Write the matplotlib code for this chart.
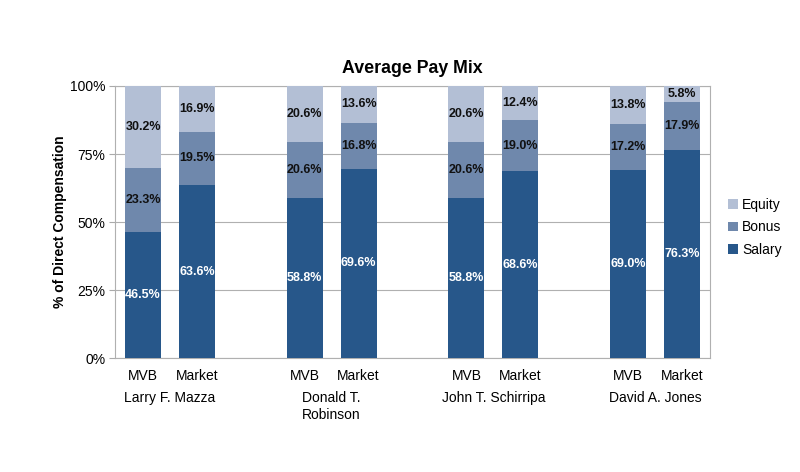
import matplotlib
matplotlib.use("Agg")
import matplotlib.pyplot as plt
from matplotlib.ticker import FuncFormatter
import matplotlib.transforms as mtransforms

plt.rcParams['font.family'] = ['Liberation Sans', 'DejaVu Sans']

# data
names = ["Larry F. Mazza", "Donald T.\nRobinson", "John T. Schirripa", "David A. Jones"]
bar_labels = ["MVB", "Market"]
salary = [46.5, 63.6, 58.8, 69.6, 58.8, 68.6, 69.0, 76.3]
bonus = [23.3, 19.5, 20.6, 16.8, 20.6, 19.0, 17.2, 17.9]
equity = [30.2, 16.9, 20.6, 13.6, 20.6, 12.4, 13.8, 5.8]

c_salary = '#27578a'
c_bonus = '#6f88ac'
c_equity = '#b3bfd5'

x = []
for g in range(len(names)):
    x += [g * 3, g * 3 + 1]

fig = plt.figure(figsize=(8, 4.72), dpi=100)
ax = fig.add_axes([0.14375, 0.2415, 0.74375, 0.5763])

width = 0.667
b1 = ax.bar(x, salary, width, color=c_salary, label='Salary', zorder=3)
b2 = ax.bar(x, bonus, width, bottom=salary, color=c_bonus, label='Bonus', zorder=3)
bottoms = [s + b for s, b in zip(salary, bonus)]
b3 = ax.bar(x, equity, width, bottom=bottoms, color=c_equity, label='Equity', zorder=3)

for i, xi in enumerate(x):
    ax.text(xi, salary[i] / 2, f"{salary[i]:.1f}%", ha='center', va='center',
            color='white', fontsize=9, fontweight='bold', zorder=4)
    ax.text(xi, salary[i] + bonus[i] / 2, f"{bonus[i]:.1f}%", ha='center', va='center',
            color='#111111', fontsize=9, fontweight='bold', zorder=4)
    ax.text(xi, bottoms[i] + equity[i] / 2, f"{equity[i]:.1f}%", ha='center', va='center',
            color='#111111', fontsize=9, fontweight='bold', zorder=4)

ax.set_xlim(-0.52, 10.52)
ax.set_ylim(0, 100)
ax.set_yticks([0, 25, 50, 75, 100])
ax.yaxis.set_major_formatter(FuncFormatter(lambda v, p: f"{int(v)}%"))
ax.tick_params(axis='y', labelsize=10, length=4, color='#aaaaaa', pad=3)
ax.grid(axis='y', color='#b0b0b0', linewidth=0.8, zorder=0)
ax.set_xticks(x)
ax.set_xticklabels(bar_labels * len(names), fontsize=10)
ax.tick_params(axis='x', length=0, pad=8)
for sp in ax.spines.values():
    sp.set_color('#b0b0b0')
    sp.set_linewidth(0.8)

trans = mtransforms.blended_transform_factory(ax.transData, ax.transAxes)
for g, name in enumerate(names):
    ax.text(g * 3 + 0.5, -0.12, name, transform=trans, ha='center', va='top',
            fontsize=10, linespacing=1.3)

ax.set_ylabel('% of Direct Compensation', fontsize=10, fontweight='bold', labelpad=2)
ax.set_title('Average Pay Mix', fontsize=12.8, fontweight='bold', pad=9)

handles = [b3, b2, b1]
ax.legend(handles, ['Equity', 'Bonus', 'Salary'], loc='center left',
          bbox_to_anchor=(1.01, 0.48), frameon=False, fontsize=10,
          handlelength=0.7, handleheight=0.7, handletextpad=0.3, labelspacing=0.6)

fig.savefig('out.png', dpi=100)
